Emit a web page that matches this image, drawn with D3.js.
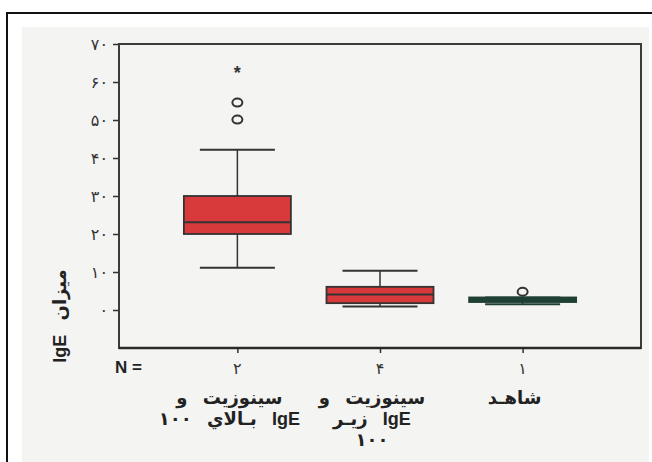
<!DOCTYPE html>
<html>
<head>
<meta charset="utf-8">
<script src="https://cdn.jsdelivr.net/npm/d3@7"></script>
<style>
  body { margin: 0; background: #fff; }
  svg { display: block; }
</style>
</head>
<body>
<script>
(function() {
    'use strict';

    // groups, left to right
    var groups = ["high", "low", "control"];
    var groupLines = [
        ["سينوزيت و", "IgE بـالاي ۱۰۰"],
        ["سينوزيت و", "IgE زيـر", "۱۰۰"],
        ["شاهـد"]
    ];
    var counts = ["۲", "۴", "۱"];

    // box plot stats
    var whiskerLow  = [11.1, 0.9, 1.5];
    var q1          = [20.0, 1.8, 2.1];
    var median      = [23.1, 4.1, 2.7];
    var q3          = [30.0, 6.1, 3.3];
    var whiskerHigh = [42.2, 10.3, 3.3];
    var outliers    = [[54.6, 50.1], [], [4.8]];
    var extremes    = [[63.1], [], []];

    var yTicks = [0, 10, 20, 30, 40, 50, 60, 70];

    var w = 652;
    var h = 462;
    var left = 119, right = 641, top = 44, bottom = 348;

    var svg = d3.select("body")
                .append("svg")
                .attr("width", w)
                .attr("height", h);

    // page frame and panel
    svg.append("rect")
       .attr("x", 7).attr("y", 13)
       .attr("width", 700).attr("height", 520)
       .attr("fill", "#ffffff")
       .attr("stroke", "#111").attr("stroke-width", 2);
    svg.append("rect")
       .attr("x", 22).attr("y", 27)
       .attr("width", 627).attr("height", 440)
       .attr("fill", "#f4f4f3");

    var x = d3.scalePoint()
              .domain(groups)
              .range([left, right])
              .padding(0.83);

    var y = d3.scaleLinear()
              .domain([-10, 70])
              .range([bottom, top]);

    var fa = "۰۱۲۳۴۵۶۷۸۹";
    function toFa(n) {
        return String(n).replace(/[0-9]/g, function(c) { return fa[+c]; });
    }

    var yAxis = svg.append("g")
                   .attr("transform", "translate(" + left + ",0)")
                   .call(d3.axisLeft(y).tickValues(yTicks).tickSize(6).tickPadding(5).tickFormat(toFa));
    yAxis.select(".domain").remove();
    yAxis.selectAll("line").attr("stroke", "#333").attr("stroke-width", 1.5);
    yAxis.selectAll("text")
         .attr("fill", "#333")
         .style("font-family", "'DejaVu Sans', sans-serif")
         .style("font-size", "16px");

    var xAxis = svg.append("g")
                   .attr("transform", "translate(0," + bottom + ")")
                   .call(d3.axisBottom(x).tickSize(5).tickFormat(""));
    xAxis.select(".domain").remove();
    xAxis.selectAll("line").attr("stroke", "#333").attr("stroke-width", 1.5);

    // plot frame
    svg.append("rect")
       .attr("x", left).attr("y", top)
       .attr("width", right - left).attr("height", bottom - top)
       .attr("fill", "none")
       .attr("stroke", "#3c3c3c").attr("stroke-width", 2);
    svg.append("line")
       .attr("x1", left).attr("x2", right)
       .attr("y1", bottom).attr("y2", bottom)
       .attr("stroke", "#2a2a2a").attr("stroke-width", 2.5);

    var boxW = 107, capW = 75;
    var fill = d3.scaleOrdinal().domain(groups).range(["#d83a3c", "#d83a3c", "#1f4a3b"]);
    var edge = d3.scaleOrdinal().domain(groups).range(["#333333", "#333333", "#1f3f33"]);

    var box = svg.selectAll("g.box")
                 .data(groups)
                 .enter()
                 .append("g")
                 .attr("class", "box");

    // whisker stems
    box.append("line")
       .attr("x1", function(d) { return x(d); })
       .attr("x2", function(d) { return x(d); })
       .attr("y1", function(d, i) { return y(whiskerLow[i]); })
       .attr("y2", function(d, i) { return y(whiskerHigh[i]); })
       .attr("stroke", function(d) { return edge(d); })
       .attr("stroke-width", 1.5);

    // caps
    [whiskerLow, whiskerHigh].forEach(function(arr) {
        box.append("line")
           .attr("x1", function(d) { return x(d) - capW / 2; })
           .attr("x2", function(d) { return x(d) + capW / 2; })
           .attr("y1", function(d, i) { return y(arr[i]); })
           .attr("y2", function(d, i) { return y(arr[i]); })
           .attr("stroke", function(d) { return edge(d); })
           .attr("stroke-width", 2);
    });

    box.append("rect")
       .attr("x", function(d) { return x(d) - boxW / 2; })
       .attr("width", boxW)
       .attr("y", function(d, i) { return y(q3[i]); })
       .attr("height", function(d, i) { return y(q1[i]) - y(q3[i]); })
       .attr("fill", function(d) { return fill(d); })
       .attr("stroke", function(d) { return edge(d); })
       .attr("stroke-width", 1.8);

    box.append("line")
       .attr("x1", function(d) { return x(d) - boxW / 2; })
       .attr("x2", function(d) { return x(d) + boxW / 2; })
       .attr("y1", function(d, i) { return y(median[i]); })
       .attr("y2", function(d, i) { return y(median[i]); })
       .attr("stroke", function(d) { return edge(d); })
       .attr("stroke-width", 2);

    // outliers (circles) and extremes (stars)
    groups.forEach(function(g, i) {
        svg.selectAll(null)
           .data(outliers[i])
           .enter()
           .append("ellipse")
           .attr("cx", x(g))
           .attr("cy", function(v) { return y(v); })
           .attr("rx", 5).attr("ry", 4)
           .attr("fill", "none")
           .attr("stroke", "#333")
           .attr("stroke-width", 2);
        svg.selectAll(null)
           .data(extremes[i])
           .enter()
           .append("text")
           .attr("x", x(g))
           .attr("y", function(v) { return y(v) + 9; })
           .attr("text-anchor", "middle")
           .attr("fill", "#333")
           .style("font-family", "'Liberation Sans', sans-serif")
           .style("font-weight", "bold")
           .style("font-size", "18px")
           .text("*");
    });

    // N = row
    svg.append("text")
       .attr("x", 115).attr("y", 373)
       .attr("fill", "#222")
       .style("font-family", "'Liberation Sans', Arial, sans-serif")
       .style("font-weight", "bold")
       .style("font-size", "17px")
       .text("N =");

    svg.selectAll("text.count")
       .data(groups)
       .enter()
       .append("text")
       .attr("class", "count")
       .attr("x", function(d) { return x(d); })
       .attr("y", 374)
       .attr("text-anchor", "middle")
       .attr("fill", "#333")
       .style("font-family", "'DejaVu Sans', sans-serif")
       .style("font-size", "16px")
       .text(function(d, i) { return counts[i]; });

    // group labels, "IgE" in Latin bold inside the Arabic line
    function fillLine(sel, str) {
        str.split(/(IgE)/).forEach(function(part) {
            if (!part) { return; }
            sel.append("tspan")
               .style("font-family", part === "IgE" ? "'Liberation Sans', Arial, sans-serif" : "'DejaVu Sans', sans-serif")
               .text(part);
        });
    }

    groups.forEach(function(g, i) {
        svg.selectAll(null)
           .data(groupLines[i])
           .enter()
           .append("text")
           .attr("x", x(g) - 8)
           .attr("y", function(d, j) { return 404 + j * 21; })
           .attr("text-anchor", "middle")
           .attr("direction", "rtl")
           .style("direction", "rtl")
           .attr("fill", "#222")
           .style("font-size", "18px")
           .style("font-weight", "bold")
           .style("word-spacing", "9px")
           .each(function(d) { fillLine(d3.select(this), d); });
    });

    // y title
    var title = svg.append("text")
       .attr("transform", "translate(66,316) rotate(-90)")
       .attr("text-anchor", "middle")
       .attr("direction", "rtl")
       .style("direction", "rtl")
       .attr("fill", "#222")
       .style("font-size", "18px")
       .style("font-weight", "bold")
       .style("word-spacing", "8px");
    fillLine(title, "ميزان IgE");
}());
</script>
</body>
</html>
